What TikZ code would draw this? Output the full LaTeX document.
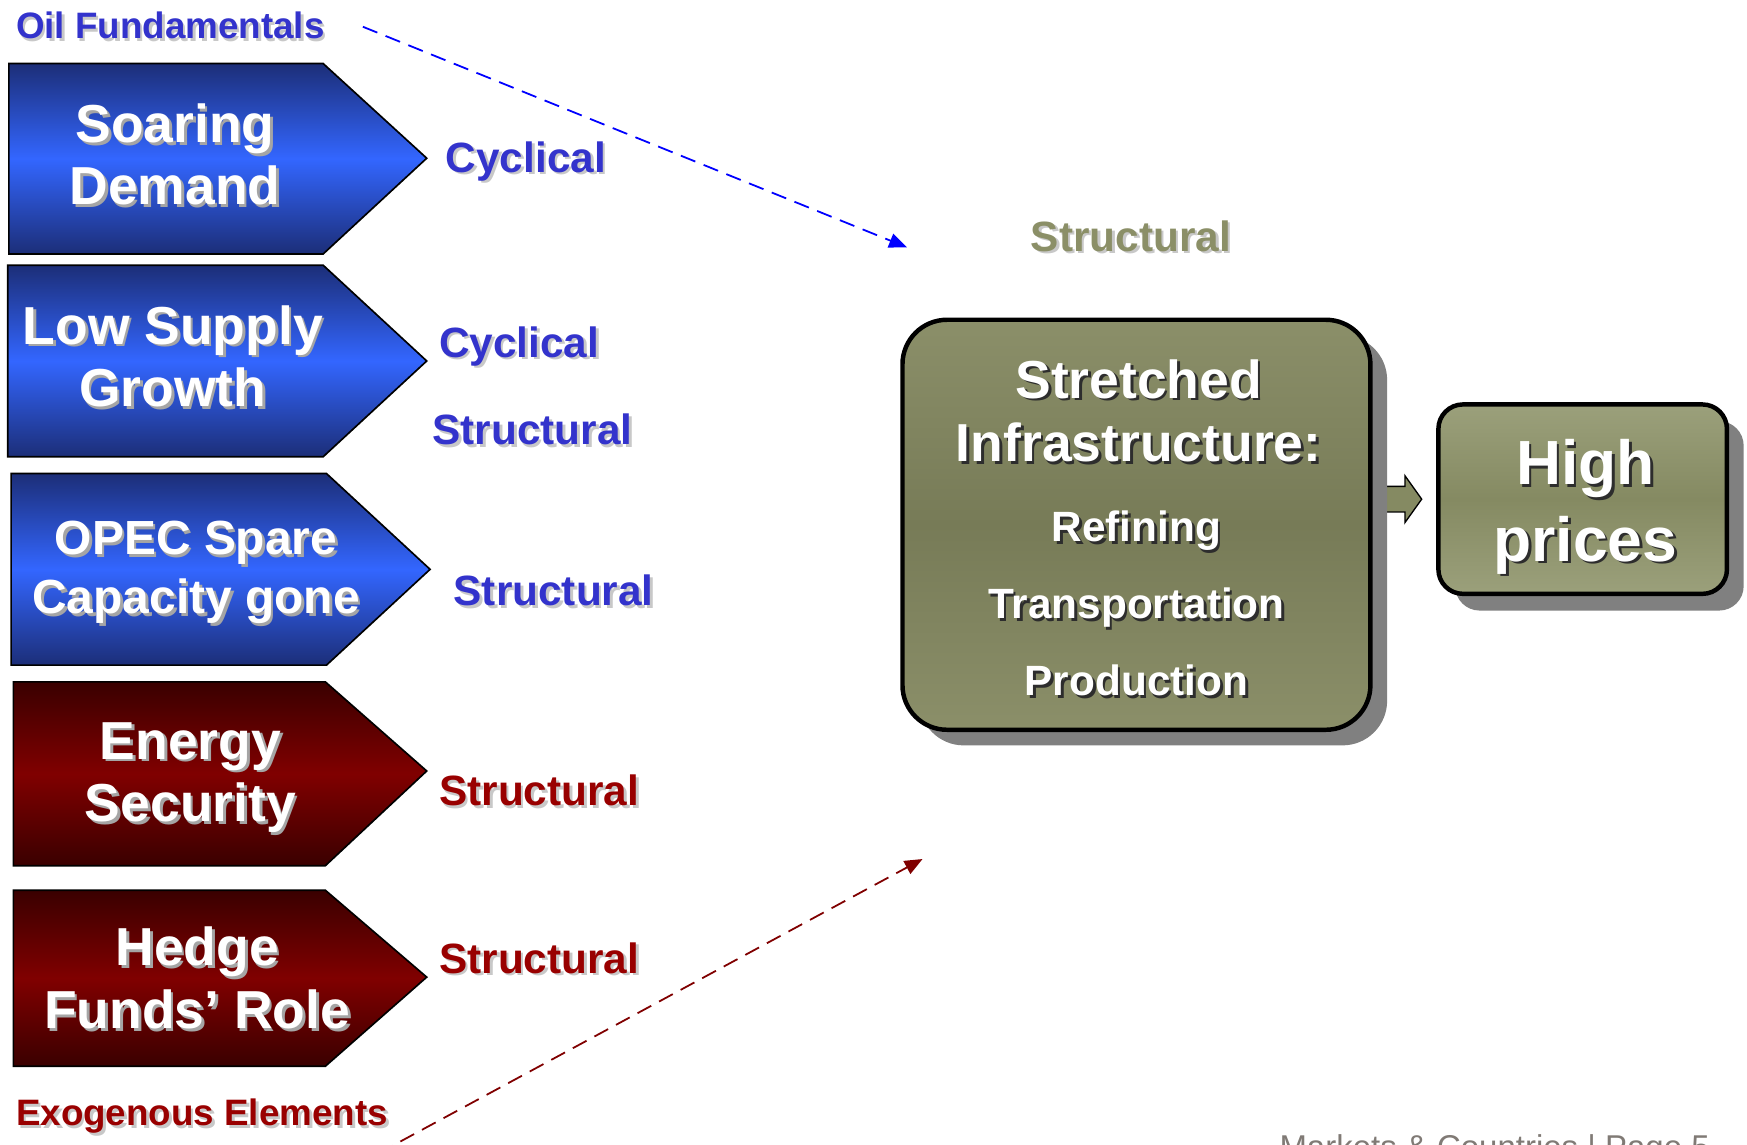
\documentclass[tikz,border=0pt]{standalone}
\usepackage{fontspec}
\setmainfont{Liberation Sans}
\usetikzlibrary{arrows.meta,shadows,calc}
\pgfdeclarelayer{background}
\pgfsetlayers{background,main}
\definecolor{bdark}{RGB}{28,46,120}
\definecolor{bbright}{RGB}{51,102,255}
\definecolor{rdark}{RGB}{58,0,0}
\definecolor{rmid}{RGB}{128,0,0}
\definecolor{oedge}{RGB}{139,143,105}
\definecolor{omid}{RGB}{119,123,87}
\definecolor{hedge}{RGB}{155,160,123}
\definecolor{hmid}{RGB}{133,138,98}
\definecolor{shgray}{RGB}{128,128,128}
\definecolor{lblue}{RGB}{51,51,204}
\definecolor{lred}{RGB}{153,0,0}
\definecolor{lolive}{RGB}{139,143,103}
\definecolor{lshadow}{RGB}{200,200,200}
\definecolor{wshadow}{RGB}{165,165,165}
\definecolor{dshadow}{RGB}{45,45,45}
\definecolor{footgray}{RGB}{128,122,117}
\definecolor{dashred}{RGB}{128,0,0}
\newcommand{\shd}[2]{\makebox[0pt][l]{\hspace{1.2pt}\raisebox{-1.2pt}{\textcolor{#1}{#2}}}#2}
\tikzset{
  bluearrow/.style={draw=black, line width=0.75pt, top color=bdark, bottom color=bdark, middle color=bbright},
  redarrow/.style={draw=black, line width=0.75pt, top color=rdark, bottom color=rdark, middle color=rmid},
  arrowtext/.style={text=white, align=center, font=\bfseries\fontsize{24}{28}\selectfont, inner sep=0pt},
  lab/.style={font=\bfseries\fontsize{19}{22}\selectfont, inner sep=0pt},
  sidelab/.style={font=\bfseries\fontsize{16.5}{19}\selectfont, inner sep=0pt, anchor=west},
  bigbox/.style={draw=black, line width=2pt, rounded corners=20pt, top color=oedge, bottom color=oedge, middle color=omid,
    drop shadow={shadow xshift=7.5pt, shadow yshift=-7pt, fill=shgray, opacity=1}},
  highbox/.style={draw=black, line width=2pt, rounded corners=11pt, top color=hedge, bottom color=hedge, middle color=hmid,
    drop shadow={shadow xshift=7.5pt, shadow yshift=-7.5pt, fill=shgray, opacity=1}},
  boxtext/.style={text=white, align=center, inner sep=0pt},
  bluedash/.style={draw=blue, line width=0.8pt, dash pattern=on 7pt off 4pt, -{Triangle[length=8pt,width=6.5pt]}},
  reddash/.style={draw=dashred, line width=0.8pt, dash pattern=on 7pt off 4pt, -{Triangle[length=8pt,width=6.5pt]}},
  smallarrow/.style={draw=black, line width=0.6pt, fill=hmid}
}
\begin{document}
\begin{tikzpicture}[x=0.5pt,y=-0.5pt]
\useasboundingbox (0,0) rectangle (1568,1027);
% left arrows
\shadedraw[bluearrow] (8,57) -- (290,57) -- (383,142) -- (290,228) -- (8,228) -- cycle;
\shadedraw[bluearrow] (7,238) -- (290,238) -- (383,324) -- (290,410) -- (7,410) -- cycle;
\shadedraw[bluearrow] (10,425) -- (293,425) -- (386,511) -- (293,597) -- (10,597) -- cycle;
\shadedraw[redarrow] (12,612) -- (292,612) -- (383,692) -- (292,777) -- (12,777) -- cycle;
\shadedraw[redarrow] (12,799) -- (292,799) -- (383,877) -- (292,957) -- (12,957) -- cycle;
\node[arrowtext] (t1) at (157,140) {\shd{wshadow}{Soaring}\\\shd{wshadow}{Demand}};
\node[arrowtext] (t2) at (155,321) {\shd{wshadow}{Low Supply}\\\shd{wshadow}{Growth}};
\node[arrowtext, font=\bfseries\fontsize{21.5}{26.5}\selectfont] (t3) at (176,515) {\shd{wshadow}{OPEC Spare}\\\shd{wshadow}{Capacity gone}};
\node[arrowtext] (t4) at (171,699) {\shd{wshadow}{Energy}\\\shd{wshadow}{Security}};
\node[arrowtext] (t5) at (177,879) {\shd{wshadow}{Hedge}\\\shd{wshadow}{Funds’ Role}};
% labels
\node[lab, text=lblue] (c1) at (472,146) {\shd{lshadow}{Cyclical}};
\node[lab, text=lblue] (c2) at (466,312) {\shd{lshadow}{Cyclical}};
\node[lab, text=lblue] (s2) at (478,387) {\shd{lshadow}{Structural}};
\node[lab, text=lblue] (s3) at (497,531) {\shd{lshadow}{Structural}};
\node[lab, text=lred] (s4) at (484,711) {\shd{lshadow}{Structural}};
\node[lab, text=lred] (s5) at (484,861) {\shd{lshadow}{Structural}};
\node[lab, text=lolive] (s0) at (1015,213) {\shd{lshadow}{Structural}};
\node[sidelab, text=lblue] (oil) at (14,24) {\shd{lshadow}{Oil Fundamentals}};
\node[sidelab, text=lred] (exo) at (14,1003) {\shd{lshadow}{Exogenous Elements}};
% boxes
\node[bigbox, minimum width=210pt, minimum height=184pt] (infra) at (1020,471) {};
\node[highbox, minimum width=129.5pt, minimum height=85pt] (high) at (1420.5,448) {};
\node[boxtext, font=\bfseries\fontsize{24}{28.5}\selectfont] (ttl) at (1022,370) {\shd{dshadow}{Stretched}\\\shd{dshadow}{Infrastructure:}};
\node[boxtext, font=\bfseries\fontsize{19}{34.5}\selectfont] (lst) at (1020,543) {\shd{dshadow}{Refining}\\\shd{dshadow}{Transportation}\\\shd{dshadow}{Production}};
\node[boxtext, font=\bfseries\fontsize{28}{34.5}\selectfont] (hp) at (1423,456) {\shd{dshadow}{High}\\\shd{dshadow}{prices}};
\coordinate (ha) at (infra.east |- high.west);
\begin{pgfonlayer}{background}
\draw[smallarrow] (ha) ++(0,-11.5) -- ++(29,0) -- ++(0,-9.5) -- ++(15,21) -- ++(-15,21) -- ++(0,-9.5) -- ++(-29,0) -- cycle;
\end{pgfonlayer}
% dashed connectors
\coordinate (bend) at (814,222);
\coordinate (rstart) at (340,1035);
\coordinate (rend) at (828,771);
\draw[bluedash] ([xshift=17pt]oil.east) -- (bend);
\draw[reddash] (rstart) -- (rend);
% footer
\node[anchor=base west, inner sep=0pt, text=footgray, font=\fontsize{14.8}{17}\selectfont] (foot) at (1148,1040) {Markets \& Countries | Page 5};
\end{tikzpicture}
\end{document}
